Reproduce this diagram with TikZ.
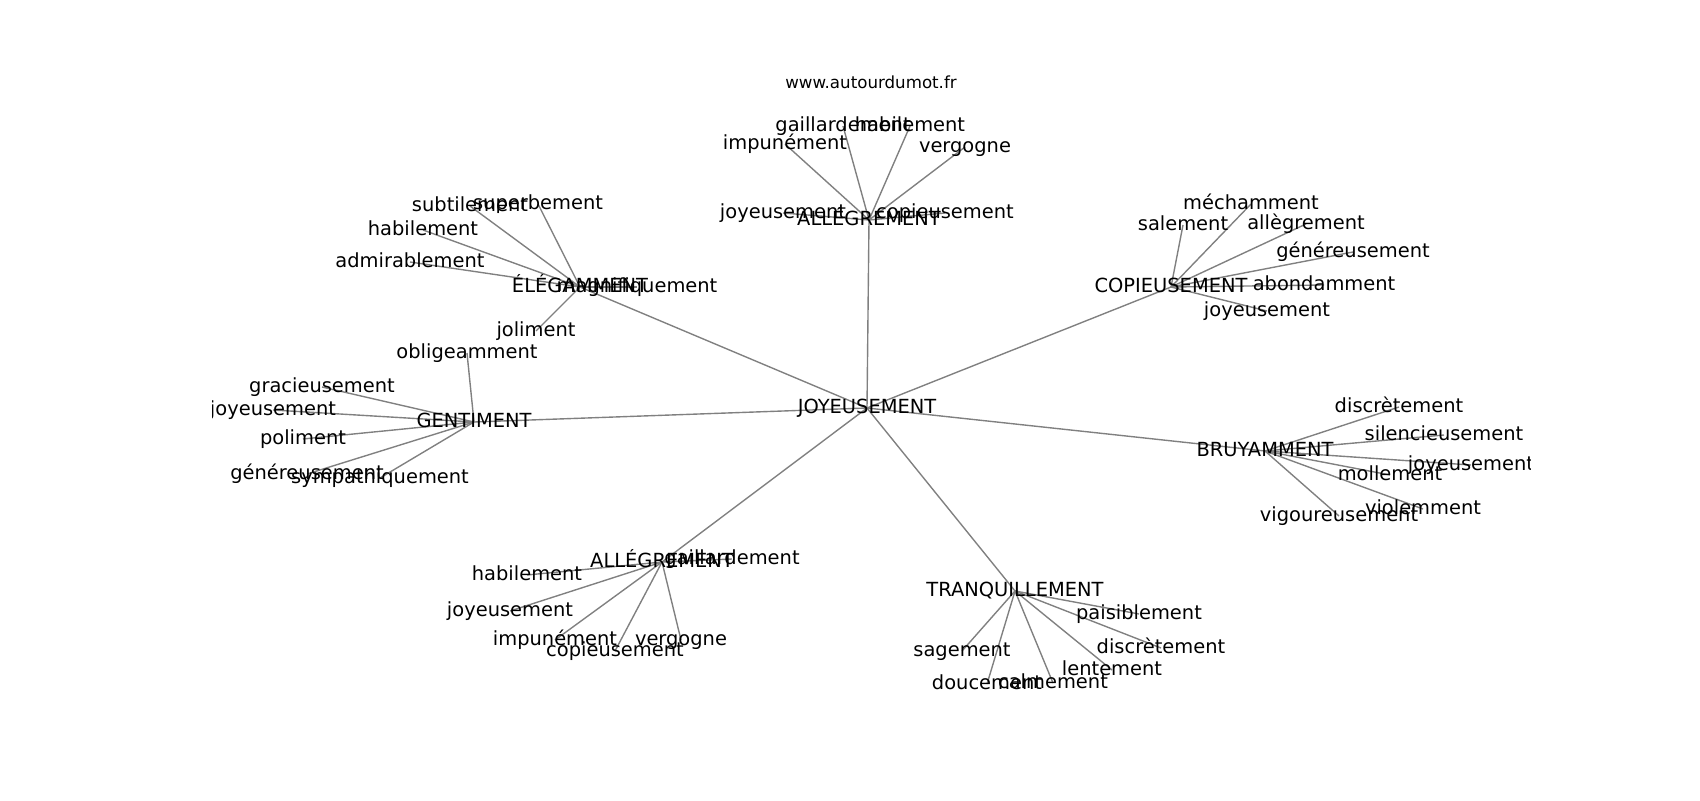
\documentclass[tikz,border=0pt]{standalone}
\usepackage{fontspec}
\setmainfont{DejaVu Sans}
\pgfdeclarelayer{background}
\pgfsetlayers{background,main}
\begin{document}
\begin{tikzpicture}[x=0.72pt,y=-0.72pt,
  edge/.style={draw=black!50, line width=1pt},
  lbl/.style={font=\fontsize{14}{16}\selectfont, inner sep=0pt, text height=10.64pt, text depth=2.91pt, anchor=center},
  ttl/.style={font=\fontsize{12}{14}\selectfont, inner sep=0pt, anchor=base}]
\useasboundingbox (0,0) rectangle (1700,800);
\node[ttl] (title) at (871,88) {www.autourdumot.fr};
\begin{scope}
\clip (212.5,96) rectangle (1530,712);
% centre
\node[lbl] (c) at (867,408) {JOYEUSEMENT};
% hub 1
\node[lbl] (h1) at (869,220) {ALLÉGREMENT};
\node[lbl] (h1a) at (843,126) {gaillardement};
\node[lbl] (h1b) at (910,126) {habilement};
\node[lbl] (h1c) at (785,144) {impunément};
\node[lbl] (h1d) at (965,147) {vergogne};
\node[lbl] (h1e) at (783,213) {joyeusement};
\node[lbl] (h1f) at (945,213) {copieusement};
% hub 2
\node[lbl] (h2) at (580,287) {ÉLÉGAMMENT};
\node[lbl] (h2a) at (470,206) {subtilement};
\node[lbl] (h2b) at (538,204) {superbement};
\node[lbl] (h2c) at (423,230) {habilement};
\node[lbl] (h2d) at (410,262) {admirablement};
\node[lbl] (h2e) at (637,287) {magnifiquement};
\node[lbl] (h2f) at (536,331) {joliment};
% hub 3
\node[lbl] (h3) at (474,422) {GENTIMENT};
\node[lbl] (h3a) at (467,353) {obligeamment};
\node[lbl] (h3b) at (322,387) {gracieusement};
\node[lbl] (h3c) at (273,410) {joyeusement};
\node[lbl] (h3d) at (303,439) {poliment};
\node[lbl] (h3e) at (307,474) {généreusement};
\node[lbl] (h3f) at (380,478) {sympathiquement};
% hub 4
\node[lbl] (h4) at (1171,287) {COPIEUSEMENT};
\node[lbl] (h4a) at (1251,204) {méchamment};
\node[lbl] (h4b) at (1183,225) {salement};
\node[lbl] (h4c) at (1306,224) {allègrement};
\node[lbl] (h4d) at (1353,252) {généreusement};
\node[lbl] (h4e) at (1324,285) {abondamment};
\node[lbl] (h4f) at (1267,311) {joyeusement};
% hub 5
\node[lbl] (h5) at (1265,451) {BRUYAMMENT};
\node[lbl] (h5a) at (1399,407) {discrètement};
\node[lbl] (h5b) at (1444,435) {silencieusement};
\node[lbl] (h5c) at (1471,465) {joyeusement};
\node[lbl] (h5d) at (1390,475) {mollement};
\node[lbl] (h5e) at (1423,509) {violemment};
\node[lbl] (h5f) at (1339,516) {vigoureusement};
% hub 6
\node[lbl] (h6) at (662,562) {ALLÉGREMENT};
\node[lbl] (h6a) at (732,559) {gaillardement};
\node[lbl] (h6b) at (527,575) {habilement};
\node[lbl] (h6c) at (510,611) {joyeusement};
\node[lbl] (h6d) at (555,640) {impunément};
\node[lbl] (h6e) at (615,651) {copieusement};
\node[lbl] (h6f) at (681,640) {vergogne};
% hub 7
\node[lbl] (h7) at (1015,591) {TRANQUILLEMENT};
\node[lbl] (h7a) at (1139,614) {paisiblement};
\node[lbl] (h7b) at (962,651) {sagement};
\node[lbl] (h7c) at (1161,648) {discrètement};
\node[lbl] (h7d) at (1112,670) {lentement};
\node[lbl] (h7e) at (987,684) {doucement};
\node[lbl] (h7f) at (1053,683) {calmement};
\end{scope}
\begin{pgfonlayer}{background}
\foreach \h in {h1,h2,h3,h4,h5,h6,h7}{
  \draw[edge] (c.center) -- (\h.center);
  \foreach \l in {a,b,c,d,e,f}{
    \draw[edge] (\h.center) -- (\h\l.center);
  }
}
\end{pgfonlayer}
\end{tikzpicture}
\end{document}
